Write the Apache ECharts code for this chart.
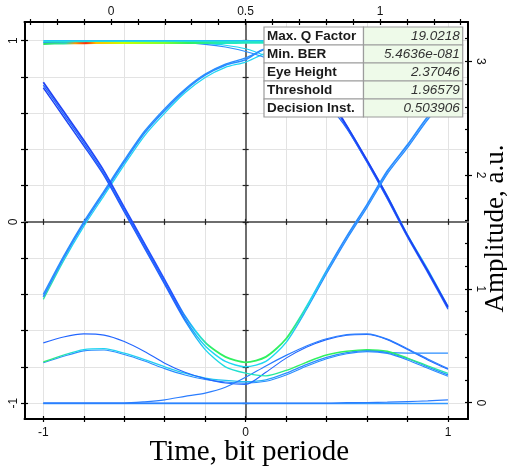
<!DOCTYPE html>
<html>
<head>
<meta charset="utf-8">
<title>Eye Diagram</title>
<script src="https://cdn.jsdelivr.net/npm/echarts@6/dist/echarts.min.js"></script>
<style>
  html, body { margin: 0; padding: 0; background: #fff; }
  #chart { width: 507px; height: 469px; }
</style>
</head>
<body>
<div id="chart"></div>
<script>
// Sample instants, in units of the lower time axis
const TIME = [-1, -0.9, -0.8, -0.7, -0.6, -0.5, -0.4, -0.3, -0.2, -0.1, 0,
              0.1, 0.2, 0.3, 0.4, 0.5, 0.6, 0.7, 0.8, 0.9, 1];

// "1" level rail
const railTopA = [0.982, 0.985, 0.986, 0.987, 0.987, 0.987, 0.987, 0.987, 0.987, 0.987, 0.988,
                  0.988, 0.988, 0.988, 0.988, 0.988, 0.988, 0.988, 0.988, 0.988, 0.988];
const railTopB = [0.995, 0.995, 0.995, 0.995, 0.995, 0.995, 0.995, 0.995, 0.995, 0.995, 0.995,
                  0.995, 0.995, 0.995, 0.995, 0.995, 0.995, 0.995, 0.995, 0.995, 0.995];
const railTopC = [1.0, 1.0, 1.0, 1.0, 1.0, 1.0, 1.0, 1.0, 1.0, 1.0, 1.0,
                  1.0, 1.0, 1.0, 1.0, 1.0, 1.0, 1.0, 1.0, 1.0, 1.0];

// "1" rail leaving for a falling edge
const highFall  = [0.99, 0.99, 0.99, 0.99, 0.99, 0.99, 0.99, 0.99, 0.985, 0.975, 0.955,
                   0.915, 0.86, 0.78, 0.67, 0.53, 0.34, 0.145, -0.07, -0.26, -0.465];
const highFallB = [0.99, 0.99, 0.99, 0.99, 0.99, 0.99, 0.99, 0.988, 0.98, 0.965, 0.94,
                   0.905, 0.85, 0.77, 0.655, 0.515, 0.33, 0.13, -0.08, -0.27, -0.475];

// Rising edges
const rise010  = [-0.414, -0.2, -0.01, 0.16, 0.33, 0.49, 0.615, 0.725, 0.81, 0.865, 0.895,
                  0.955, 0.955, 0.87, 0.71, 0.53, 0.34, 0.14, -0.075, -0.27, -0.47];
const rise011  = [-0.4, -0.19, 0.0, 0.17, 0.34, 0.5, 0.625, 0.732, 0.815, 0.87, 0.905,
                  0.955, 0.978, 0.986, 0.988, 0.988, 0.988, 0.988, 0.988, 0.988, 0.988];
const rise010b = [-0.428, -0.215, -0.025, 0.145, 0.315, 0.475, 0.6, 0.712, 0.797, 0.853, 0.882,
                  0.93, 0.94, 0.86, 0.7, 0.52, 0.33, 0.128, -0.085, -0.28, -0.482];

// Falling edges
const fallU101  = [0.77, 0.61, 0.45, 0.28, 0.08, -0.12, -0.32, -0.52, -0.665, -0.745, -0.775,
                   -0.745, -0.645, -0.47, -0.27, -0.08, 0.095, 0.28, 0.425, 0.58, 0.70];
const fallU101b = [0.755, 0.595, 0.435, 0.265, 0.065, -0.135, -0.335, -0.535, -0.685, -0.77, -0.8,
                   -0.77, -0.665, -0.485, -0.285, -0.095, 0.08, 0.265, 0.41, 0.565, 0.69];
const fall100   = [0.74, 0.58, 0.42, 0.255, 0.055, -0.145, -0.345, -0.545, -0.705, -0.8, -0.835,
                   -0.85, -0.82, -0.775, -0.735, -0.714, -0.705, -0.714, -0.752, -0.795, -0.836];

// "0" level with inter-symbol ripple
const lowBumpL  = [-0.773, -0.735, -0.705, -0.70, -0.725, -0.76, -0.80, -0.835, -0.862, -0.875, -0.882,
                   -0.872, -0.835, -0.788, -0.748, -0.722, -0.71, -0.72, -0.755, -0.80, -0.845];
const lowBumpL2 = [-0.778, -0.742, -0.712, -0.707, -0.732, -0.768, -0.81, -0.845, -0.87, -0.884, -0.89,
                   -0.88, -0.845, -0.797, -0.755, -0.728, -0.716, -0.726, -0.762, -0.808, -0.852];
const upBumpL   = [-0.668, -0.635, -0.618, -0.625, -0.66, -0.715, -0.78, -0.83, -0.865, -0.889, -0.897,
                   -0.83, -0.752, -0.692, -0.65, -0.626, -0.622, -0.65, -0.704, -0.762, -0.814];
const railRise  = [-1.0, -1.0, -1.0, -1.0, -1.0, -0.993, -0.982, -0.963, -0.945, -0.913, -0.858,
                   -0.795, -0.737, -0.685, -0.645, -0.622, -0.618, -0.647, -0.70, -0.757, -0.81];
const flatBranch = [null, null, null, null, null, null, null, null, null, null, null,
                    null, null, null, null, null, -0.708, -0.72, -0.724, -0.724, -0.724];
const railBottomA = [-1.003, -1.003, -1.003, -1.003, -1.003, -1.003, -1.003, -1.003, -1.003, -1.003, -1.003,
                     -1.003, -1.003, -1.003, -1.003, -1.003, -1.003, -1.003, -1.003, -1.003, -1.003];
const railBottomB = [-1.0, -1.0, -1.0, -1.0, -1.0, -1.0, -1.0, -1.0, -1.0, -1.0, -1.0,
                     -1.0, -1.0, -1.0, -1.0, -0.998, -0.997, -0.995, -0.992, -0.988, -0.982];

// Axis ticks and labels
const BOTTOM_TICKS  = [-1, -0.8, -0.6, -0.4, -0.2, 0, 0.2, 0.4, 0.6, 0.8, 1];
const BOTTOM_LABELS = [-1, 0, 1];
const TOP_TICKS     = [-0.3, -0.2, -0.1, 0, 0.1, 0.2, 0.3, 0.4, 0.5, 0.6, 0.7, 0.8, 0.9, 1, 1.1, 1.2, 1.3];
const TOP_LABELS    = [0, 0.5, 1];
const LEFT_TICKS    = [-1, -0.8, -0.6, -0.4, -0.2, 0, 0.2, 0.4, 0.6, 0.8, 1];
const LEFT_LABELS   = [-1, 0, 1];
const RIGHT_TICKS   = [0, 0.2, 0.4, 0.6, 0.8, 1, 1.2, 1.4, 1.6, 1.8, 2, 2.2, 2.4, 2.6, 2.8, 3, 3.2];
const RIGHT_LABELS  = [0, 1, 2, 3];

const X_TITLE = 'Time, bit periode';
const Y_TITLE = 'Amplitude, a.u.';

// Eye measurement summary
const TABLE_LABELS = ['Max. Q Factor', 'Min. BER', 'Eye Height', 'Threshold', 'Decision Inst.'];
const TABLE_VALUES = ['19.0218', '5.4636e-081', '2.37046', '1.96579', '0.503906'];

// ---------------------------------------------------------------------------
const grad = stops => new echarts.graphic.LinearGradient(0, 0, 1, 0,
  stops.map(([offset, color]) => ({ offset, color })));

const DK = '#1f3ff2', BL = '#2266ff', AZ = '#2a8dff', CY = '#1ed6f2', GR = '#30f060';

const traces = [
  { data: railBottomA, color: '#3399ff', width: 1.5 },
  { data: railBottomB, color: '#2a7dff', width: 1.2 },
  { data: lowBumpL2, color: AZ, width: 1.1 },
  { data: lowBumpL, color: grad([[0, GR], [0.1, CY], [0.5, '#22c0f0'], [0.6, AZ], [1, AZ]]), width: 1.3 },
  { data: upBumpL, color: BL, width: 1.1 },
  { data: railRise, color: '#2a7dff', width: 1.2 },
  { data: flatBranch, color: AZ, width: 1.2 },
  { data: rise011, color: AZ, width: 1.4 },
  { data: highFall, color: grad([[0, CY], [0.55, CY], [0.62, '#22c8f4'], [1, '#22c8f4']]), width: 1.1 },
  { data: rise010b, color: grad([[0, '#30e890'], [0.08, CY], [0.55, CY], [0.65, BL], [1, BL]]), width: 1.3 },
  { data: highFallB, color: grad([[0, AZ], [0.55, AZ], [0.65, BL], [1, BL]]), width: 1.2 },
  { data: rise010, color: grad([[0, AZ], [0.55, AZ], [0.66, DK], [1, DK]]), width: 1.7 },
  { data: fall100, color: grad([[0, DK], [0.33, BL], [0.4, CY], [0.55, '#22e8b0'], [0.62, GR], [0.85, GR], [1, '#22e0c0']]), width: 1.4 },
  { data: fallU101b, color: grad([[0, BL], [0.34, BL], [0.4, CY], [0.6, CY], [0.68, AZ], [1, AZ]]), width: 1.4 },
  { data: fallU101, color: grad([[0, DK], [0.33, '#2255ff'], [0.38, CY], [0.42, GR], [0.6, GR], [0.66, CY], [0.72, AZ], [1, AZ]]), width: 1.8 },
  { data: railTopC, color: '#20b8ff', width: 1.2 },
  { data: railTopB, color: '#22e0d8', width: 1.4 },
  { data: railTopA, color: grad([[0, '#30e060'], [0.06, '#30e0a0'], [0.085, '#ff9a00'], [0.11, '#ff3000'],
                                 [0.135, '#ffc000'], [0.2, '#c8ff00'], [0.3, '#80ff30'], [0.36, GR],
                                 [0.45, '#22e8c0'], [1, '#22e8c0']]), width: 2 }
];

const series = traces.map(tr => ({
  type: 'line',
  xAxisIndex: 0,
  yAxisIndex: 0,
  smooth: 0.25,
  symbol: 'none',
  silent: true,
  animation: false,
  lineStyle: { color: tr.color, width: tr.width },
  data: TIME.map((t, i) => [t, tr.data[i]]).filter(p => p[1] !== null)
}));

const X_MIN = -1.093, X_MAX = 1.099;
const T_MIN = -0.3216, T_MAX = 1.327;
const Y_MIN = -1.088, Y_MAX = 1.103;
const R_MIN = -0.143, R_MAX = 3.345;

const labelFont = { fontFamily: 'Liberation Sans, Arial, sans-serif', fontSize: 12, color: '#111' };
const noLabel = { show: false };
const noSplit = { show: false };
const fmt = v => String(v);

function borderAxis(extra) {
  return Object.assign({
    type: 'value',
    axisLine: { show: true, onZero: false, lineStyle: { color: '#000', width: 2 } },
    axisLabel: noLabel,
    splitLine: noSplit
  }, extra);
}
function tickOnly(extra) {
  return Object.assign({
    type: 'value',
    axisLine: { show: false, onZero: false },
    axisLabel: noLabel,
    splitLine: noSplit
  }, extra);
}
function zeroAxis(extra, showLine) {
  return Object.assign({
    type: 'value',
    axisLine: { show: showLine, onZero: true, onZeroAxisIndex: 0, lineStyle: { color: '#6e6e6e', width: 2 } },
    axisLabel: noLabel,
    splitLine: noSplit
  }, extra);
}

const xAxis = [
  borderAxis({
    position: 'bottom', min: X_MIN, max: X_MAX,
    axisTick: { show: true, customValues: BOTTOM_TICKS, length: 3, lineStyle: { color: '#000', width: 1.2 } },
    axisLabel: Object.assign({ show: true, customValues: BOTTOM_LABELS, formatter: fmt, margin: 8 }, labelFont),
    splitLine: { show: true, lineStyle: { color: '#e3e3e3', width: 1 } },
    name: X_TITLE, nameLocation: 'middle', nameGap: 19, nameMoveOverlap: false,
    nameTextStyle: { fontFamily: 'Liberation Serif, Times New Roman, serif', fontSize: 29, color: '#000',
                     padding: [0, 0, 0, 6] }
  }),
  tickOnly({
    position: 'bottom', min: X_MIN, max: X_MAX,
    axisTick: { show: true, inside: true, customValues: BOTTOM_TICKS, length: 3, lineStyle: { color: '#000', width: 1.2 } }
  }),
  borderAxis({
    position: 'top', min: T_MIN, max: T_MAX,
    axisTick: { show: true, customValues: TOP_TICKS, length: 3, lineStyle: { color: '#000', width: 1.2 } },
    axisLabel: Object.assign({ show: true, customValues: TOP_LABELS, formatter: fmt, margin: 4 }, labelFont)
  }),
  tickOnly({
    position: 'top', min: T_MIN, max: T_MAX,
    axisTick: { show: true, inside: true, customValues: TOP_TICKS, length: 3, lineStyle: { color: '#000', width: 1.2 } }
  }),
  zeroAxis({
    position: 'bottom', min: X_MIN, max: X_MAX,
    axisTick: { show: true, customValues: BOTTOM_TICKS, length: 3, lineStyle: { color: '#222', width: 1.2 } }
  }, true),
  zeroAxis({
    position: 'bottom', min: X_MIN, max: X_MAX,
    axisTick: { show: true, inside: true, customValues: BOTTOM_TICKS, length: 3, lineStyle: { color: '#222', width: 1.2 } }
  }, false)
];

const yAxis = [
  borderAxis({
    position: 'left', min: Y_MIN, max: Y_MAX,
    axisTick: { show: true, customValues: LEFT_TICKS, length: 3.5, lineStyle: { color: '#000', width: 1.2 } },
    axisLabel: Object.assign({ show: true, customValues: LEFT_LABELS, formatter: fmt, rotate: 90, margin: 5 }, labelFont),
    splitLine: { show: true, lineStyle: { color: '#e3e3e3', width: 1 } }
  }),
  tickOnly({
    position: 'left', min: Y_MIN, max: Y_MAX,
    axisTick: { show: true, inside: true, customValues: LEFT_TICKS, length: 3.5, lineStyle: { color: '#000', width: 1.2 } }
  }),
  borderAxis({
    position: 'right', min: R_MIN, max: R_MAX,
    axisTick: { show: true, inside: true, customValues: RIGHT_TICKS, length: 3, lineStyle: { color: '#000', width: 1.2 } },
    axisLabel: Object.assign({ show: true, customValues: RIGHT_LABELS, formatter: fmt, rotate: -90, margin: 6 }, labelFont),
    name: Y_TITLE, nameLocation: 'middle', nameGap: 14, nameRotate: 90, nameMoveOverlap: false,
    nameTextStyle: { fontFamily: 'Liberation Serif, Times New Roman, serif', fontSize: 27, color: '#000',
                     padding: [0, 16, 0, 0] }
  }),
  tickOnly({
    position: 'right', min: R_MIN, max: R_MAX,
    axisTick: { show: true, customValues: RIGHT_LABELS, length: 4, lineStyle: { color: '#000', width: 1.2 } }
  }),
  zeroAxis({
    position: 'left', min: Y_MIN, max: Y_MAX,
    axisTick: { show: true, customValues: LEFT_TICKS, length: 3, lineStyle: { color: '#222', width: 1.2 } }
  }, true),
  zeroAxis({
    position: 'left', min: Y_MIN, max: Y_MAX,
    axisTick: { show: true, inside: true, customValues: LEFT_TICKS, length: 3, lineStyle: { color: '#222', width: 1.2 } }
  }, false)
];

// Summary table drawn over the plot
const TABLE_X = 264, TABLE_Y = 27, ROW_H = 18, COL_W = [99.5, 99.2];
const tableElements = [];
TABLE_LABELS.forEach((label, i) => {
  const y = TABLE_Y + i * ROW_H;
  tableElements.push({
    type: 'rect', z: 100, silent: true,
    shape: { x: TABLE_X, y: y, width: COL_W[0], height: ROW_H },
    style: { fill: '#ffffff', stroke: '#9c9c9c', lineWidth: 1.2 }
  });
  tableElements.push({
    type: 'rect', z: 100, silent: true,
    shape: { x: TABLE_X + COL_W[0], y: y, width: COL_W[1], height: ROW_H },
    style: { fill: '#eefae9', stroke: '#9c9c9c', lineWidth: 1.2 }
  });
  tableElements.push({
    type: 'text', z: 101, silent: true,
    x: TABLE_X + 3, y: y + ROW_H / 2 + 0.5,
    style: {
      text: label, fill: '#1a1a1a', align: 'left', verticalAlign: 'middle',
      fontFamily: 'Liberation Sans, Arial, sans-serif', fontWeight: 'bold', fontSize: 13.5
    }
  });
  tableElements.push({
    type: 'text', z: 101, silent: true,
    x: TABLE_X + COL_W[0] + COL_W[1] - 3, y: y + ROW_H / 2 + 0.5,
    style: {
      text: TABLE_VALUES[i], fill: '#333', align: 'right', verticalAlign: 'middle',
      fontFamily: 'Liberation Sans, Arial, sans-serif', fontStyle: 'italic', fontSize: 13.5
    }
  });
});

const chart = echarts.init(document.getElementById('chart'), null, { renderer: 'canvas' });
chart.setOption({
  animation: false,
  backgroundColor: '#ffffff',
  grid: { left: 24.5, top: 22, width: 443.5, height: 397, containLabel: false, outerBoundsMode: 'none' },
  xAxis: xAxis,
  yAxis: yAxis,
  series: series,
  graphic: { elements: tableElements }
});
</script>
</body>
</html>
